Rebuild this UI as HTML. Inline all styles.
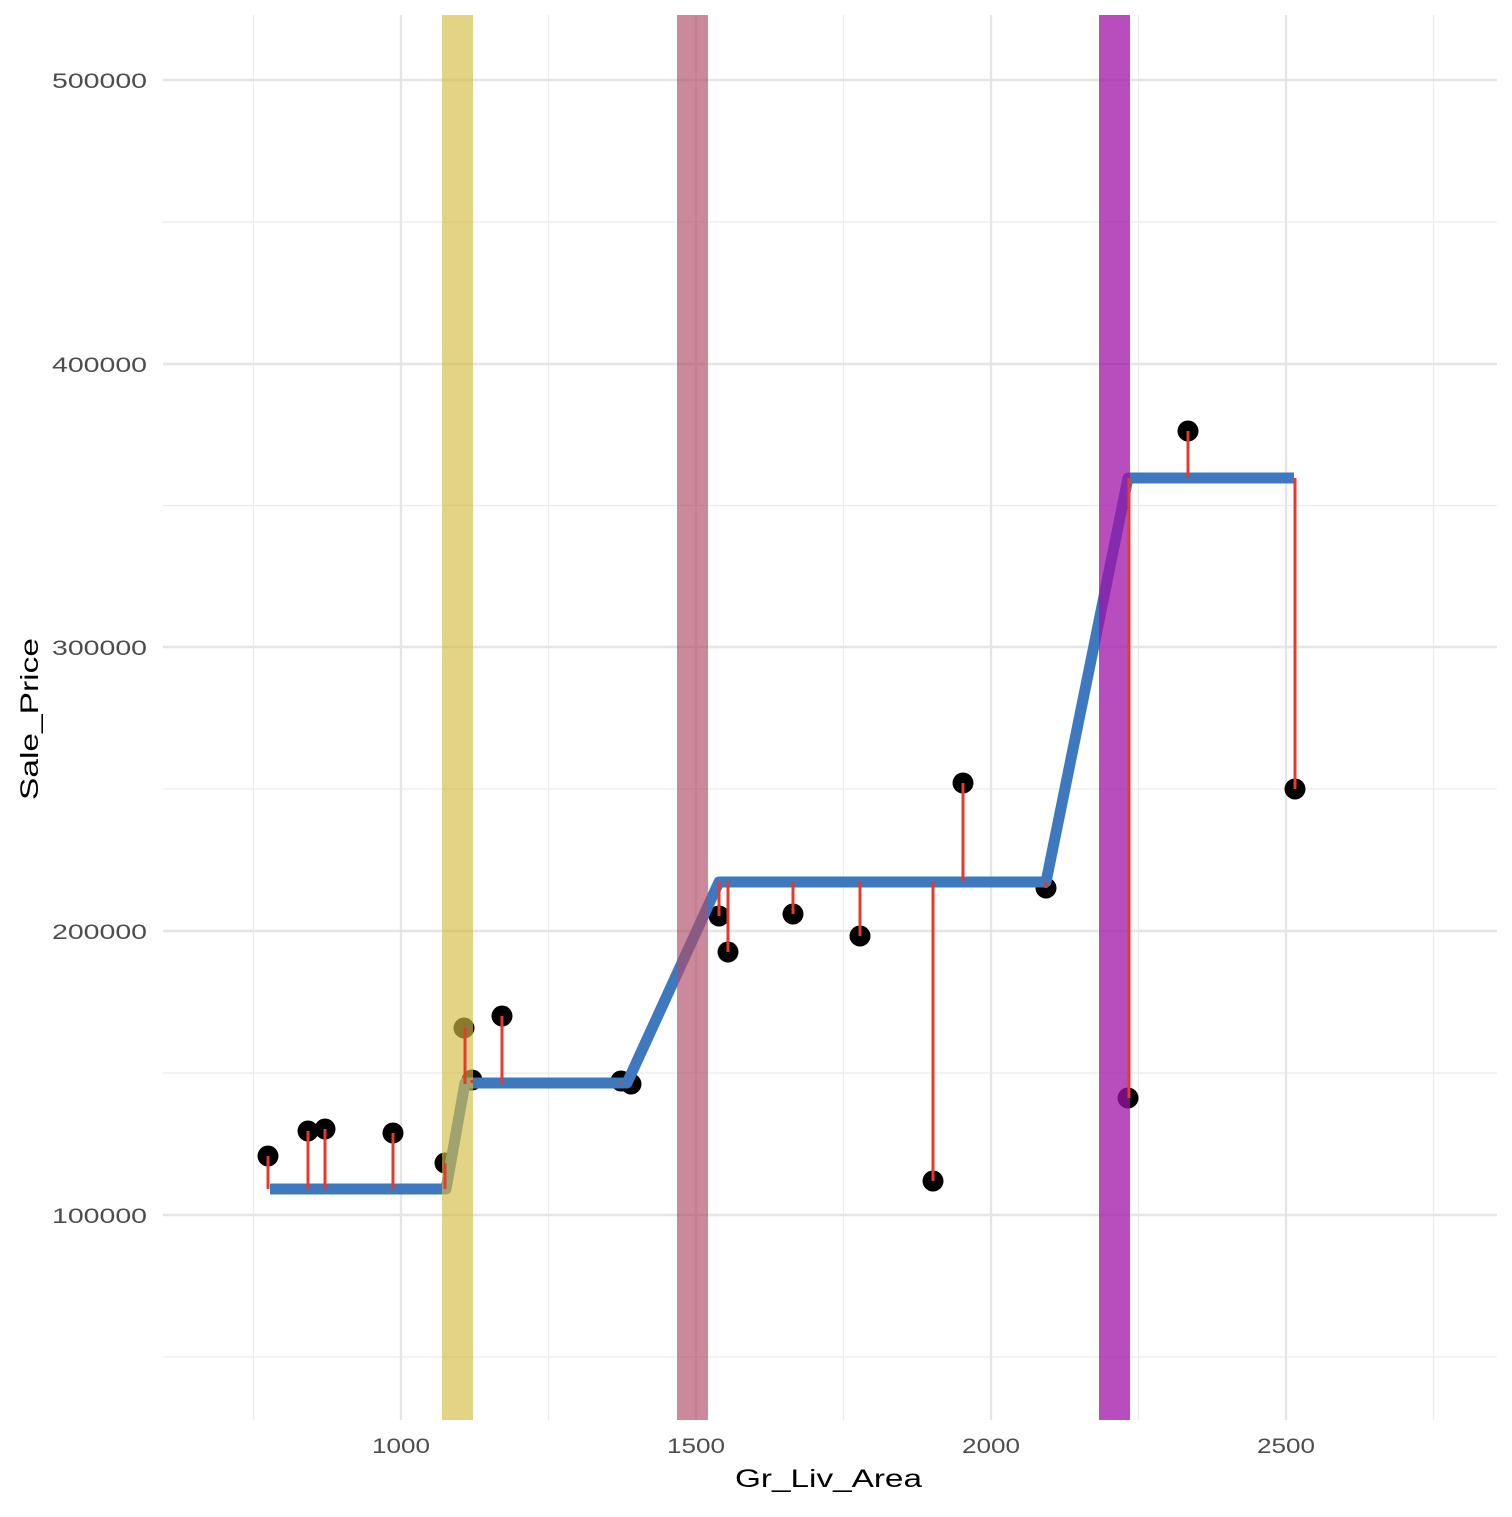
<!DOCTYPE html>
<html><head><meta charset="utf-8"><style>html,body{margin:0;padding:0;background:#fff}</style></head><body>
<svg width="1512" height="1512" xmlns="http://www.w3.org/2000/svg" font-family="Liberation Sans, sans-serif">
<rect width="1512" height="1512" fill="#fff"/>
<g stroke="#ebebeb" stroke-width="1.2">
<line x1="253.5" y1="15" x2="253.5" y2="1420"/><line x1="548.5" y1="15" x2="548.5" y2="1420"/><line x1="843.5" y1="15" x2="843.5" y2="1420"/><line x1="1138.5" y1="15" x2="1138.5" y2="1420"/><line x1="1433.5" y1="15" x2="1433.5" y2="1420"/>
<line x1="163" y1="222" x2="1497" y2="222"/><line x1="163" y1="505.5" x2="1497" y2="505.5"/><line x1="163" y1="789" x2="1497" y2="789"/><line x1="163" y1="1073" x2="1497" y2="1073"/><line x1="163" y1="1357" x2="1497" y2="1357"/>
</g>
<g stroke="#e5e5e5" stroke-width="2.4">
<line x1="401" y1="15" x2="401" y2="1420"/><line x1="696" y1="15" x2="696" y2="1420"/><line x1="991" y1="15" x2="991" y2="1420"/><line x1="1286" y1="15" x2="1286" y2="1420"/>
<line x1="163" y1="80" x2="1497" y2="80"/><line x1="163" y1="364" x2="1497" y2="364"/><line x1="163" y1="647" x2="1497" y2="647"/><line x1="163" y1="931" x2="1497" y2="931"/><line x1="163" y1="1215" x2="1497" y2="1215"/>
</g>
<g fill="#000">
<circle cx="268" cy="1156" r="10.5"/><circle cx="308" cy="1131" r="10.5"/><circle cx="325" cy="1129" r="10.5"/><circle cx="393" cy="1133" r="10.5"/><circle cx="445" cy="1163" r="10.5"/><circle cx="464" cy="1028" r="10.5"/><circle cx="472" cy="1080" r="10.5"/><circle cx="502" cy="1016" r="10.5"/><circle cx="621" cy="1081" r="10.5"/><circle cx="631" cy="1084" r="10.5"/><circle cx="719" cy="916" r="10.5"/><circle cx="728" cy="952" r="10.5"/><circle cx="793" cy="914" r="10.5"/><circle cx="860" cy="936" r="10.5"/><circle cx="933" cy="1181" r="10.5"/><circle cx="963" cy="783" r="10.5"/><circle cx="1046" cy="888" r="10.5"/><circle cx="1128" cy="1098" r="10.5"/><circle cx="1188" cy="431" r="10.5"/><circle cx="1295" cy="789" r="10.5"/>
</g>
<polyline points="270,1189 446,1189 465,1083 627,1083 719,882 1046,882 1128,478 1294,478" fill="none" stroke="#3e78be" stroke-width="11" stroke-linejoin="round"/>
<rect x="442" y="15" width="31" height="1405" fill="#d4bb44" fill-opacity="0.65"/>
<rect x="677" y="15" width="31" height="1405" fill="#b04a66" fill-opacity="0.65"/>
<rect x="1099" y="15" width="31" height="1405" fill="#a012a8" fill-opacity="0.75"/>
<g stroke="#e53a2e" stroke-width="3">
<line x1="268" y1="1156" x2="268" y2="1189"/><line x1="308" y1="1131" x2="308" y2="1189"/><line x1="325" y1="1129" x2="325" y2="1189"/><line x1="393" y1="1133" x2="393" y2="1189"/><line x1="445" y1="1163" x2="445" y2="1189"/><line x1="465" y1="1028" x2="465" y2="1084"/><line x1="472" y1="1080" x2="472" y2="1083"/><line x1="502" y1="1016" x2="502" y2="1083"/><line x1="621" y1="1081" x2="621" y2="1083"/><line x1="719" y1="916" x2="719" y2="882"/><line x1="728" y1="952" x2="728" y2="882"/><line x1="793" y1="914" x2="793" y2="882"/><line x1="860" y1="936" x2="860" y2="882"/><line x1="933" y1="1181" x2="933" y2="882"/><line x1="963" y1="783" x2="963" y2="882"/><line x1="1046" y1="888" x2="1046" y2="882"/><line x1="1129" y1="1098" x2="1129" y2="478"/><line x1="1188" y1="431" x2="1188" y2="478"/><line x1="1295" y1="789" x2="1295" y2="478"/>
</g>
<g fill="#4d4d4d" font-size="21">
<text x="52" y="88" textLength="95" lengthAdjust="spacingAndGlyphs">500000</text>
<text x="52" y="372" textLength="95" lengthAdjust="spacingAndGlyphs">400000</text>
<text x="52" y="655" textLength="95" lengthAdjust="spacingAndGlyphs">300000</text>
<text x="52" y="939" textLength="95" lengthAdjust="spacingAndGlyphs">200000</text>
<text x="52" y="1223" textLength="95" lengthAdjust="spacingAndGlyphs">100000</text>
<text x="372" y="1453" textLength="58" lengthAdjust="spacingAndGlyphs">1000</text>
<text x="667" y="1453" textLength="58" lengthAdjust="spacingAndGlyphs">1500</text>
<text x="962" y="1453" textLength="58" lengthAdjust="spacingAndGlyphs">2000</text>
<text x="1257" y="1453" textLength="58" lengthAdjust="spacingAndGlyphs">2500</text>
</g>
<text x="735" y="1487" font-size="25" textLength="187" lengthAdjust="spacingAndGlyphs" fill="#000">Gr_Liv_Area</text>
<text transform="translate(38,800) rotate(-90)" font-size="25" textLength="162" lengthAdjust="spacingAndGlyphs" fill="#000">Sale_Price</text>
</svg>
</body></html>
